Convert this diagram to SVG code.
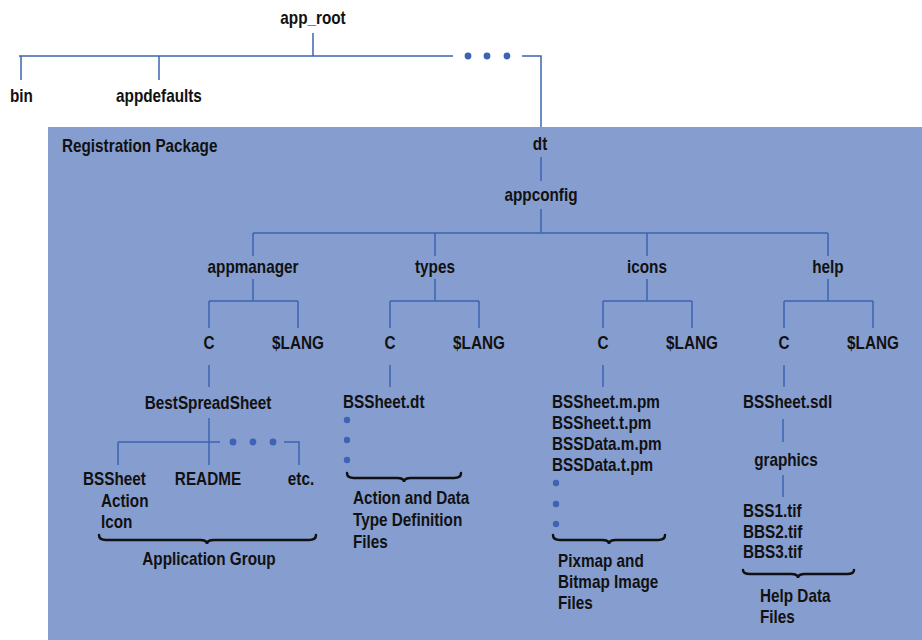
<svg xmlns="http://www.w3.org/2000/svg" width="922" height="640" viewBox="0 0 922 640">
<defs>
<style>
text{font-family:"Liberation Sans",Arial,sans-serif;font-weight:bold;font-size:18px;fill:#111;transform-box:fill-box;transform-origin:0 50%;transform:scaleX(.85)}
.m{text-anchor:middle;transform-origin:50% 50%}
.ln{stroke:#3d64b4;stroke-width:1.5;fill:none}
.dot{fill:#3d64b4}
.br{stroke:#111;stroke-width:2.5;fill:none;stroke-linecap:round}
</style>
</defs>
<rect x="48" y="127" width="874" height="513" fill="#869dcf"/>
<g id="connectors">
<path class="ln" d="M313,33V56M19,56H453M522,56H541V127M21,56V80M159,56V80"/>
<path class="ln" d="M541,157V181M541,209V233M253,233H828M253,233V256M435,233V256M647,233V256M828,233V256"/>
<path class="ln" d="M253,279V301M209,301H298M209,301V328M298,301V328"/>
<path class="ln" d="M435,279V301M390,301H479M390,301V328M479,301V328"/>
<path class="ln" d="M647,279V301M603,301H692M603,301V328M692,301V328"/>
<path class="ln" d="M828,279V301M784,301H873M784,301V328M873,301V328"/>
<path class="ln" d="M209,365V387M390,365V387M603,365V387M784,365V387"/>
<path class="ln" d="M209,418V465M118,442H220M118,442V465M284,442H299V465"/>
<path class="ln" d="M783,419V442M783,475V497"/>
<circle class="dot" cx="468" cy="56" r="3.4"/><circle class="dot" cx="487" cy="56" r="3.4"/><circle class="dot" cx="507" cy="56" r="3.4"/>
<circle class="dot" cx="233" cy="442" r="3.4"/><circle class="dot" cx="253" cy="442" r="3.4"/><circle class="dot" cx="273" cy="442" r="3.4"/>
<circle class="dot" cx="347" cy="420" r="3.2"/><circle class="dot" cx="347" cy="440" r="3.2"/><circle class="dot" cx="347" cy="460" r="3.2"/>
<circle class="dot" cx="556" cy="483" r="3.2"/><circle class="dot" cx="556" cy="504" r="3.2"/><circle class="dot" cx="556" cy="524" r="3.2"/>
<path class="br" d="M99,535Q99,540 106,540L200,540Q207,540 207,544Q207,540 214,540L309,540Q316,540 316,535"/>
<path class="br" d="M347,473Q347,478 354,478L397,478Q404,478 404,482Q404,478 411,478L454,478Q461,478 461,473"/>
<path class="br" d="M553,535Q553,540 560,540L602,540Q609,540 609,544Q609,540 616,540L658,540Q665,540 665,535"/>
<path class="br" d="M743,570Q743,574 750,574L791,574Q798,574 798,578Q798,574 805,574L847,574Q854,574 854,570"/>
</g>
<g id="app_root"><text class="m" x="313" y="24">app_root</text></g>
<g id="bin"><text x="10" y="102">bin</text></g>
<g id="appdefaults"><text class="m" x="159" y="102">appdefaults</text></g>
<g id="registration"><text x="62" y="152">Registration Package</text></g>
<g id="dt"><text class="m" x="540" y="150">dt</text></g>
<g id="appconfig"><text class="m" x="541" y="201">appconfig</text></g>
<g id="appmanager"><text class="m" x="253" y="273">appmanager</text></g>
<g id="types"><text class="m" x="435" y="273">types</text></g>
<g id="icons"><text class="m" x="647" y="273">icons</text></g>
<g id="help"><text class="m" x="828" y="273">help</text></g>
<g id="am_c"><text class="m" x="209" y="349">C</text></g>
<g id="am_lang"><text class="m" x="298" y="349">$LANG</text></g>
<g id="ty_c"><text class="m" x="390" y="349">C</text></g>
<g id="ty_lang"><text class="m" x="479" y="349">$LANG</text></g>
<g id="ic_c"><text class="m" x="603" y="349">C</text></g>
<g id="ic_lang"><text class="m" x="692" y="349">$LANG</text></g>
<g id="he_c"><text class="m" x="784" y="349">C</text></g>
<g id="he_lang"><text class="m" x="873" y="349">$LANG</text></g>
<g id="bestspreadsheet"><text class="m" x="208" y="409">BestSpreadSheet</text></g>
<g id="bssheet_icon"><text x="83" y="485">BSSheet</text><text x="101" y="507">Action</text><text x="101" y="528">Icon</text></g>
<g id="readme"><text class="m" x="208" y="485">README</text></g>
<g id="etc"><text class="m" x="301" y="485">etc.</text></g>
<g id="appgroup"><text class="m" x="209" y="565">Application Group</text></g>
<g id="bssheet_dt"><text x="343" y="408">BSSheet.dt</text></g>
<g id="actiondata"><text x="353" y="504">Action and Data</text><text x="353" y="526">Type Definition</text><text x="353" y="548">Files</text></g>
<g id="pm_files"><text x="552" y="408">BSSheet.m.pm</text><text x="552" y="429">BSSheet.t.pm</text><text x="552" y="450">BSSData.m.pm</text><text x="552" y="471">BSSData.t.pm</text></g>
<g id="pixmap"><text x="558" y="567">Pixmap and</text><text x="558" y="588">Bitmap Image</text><text x="558" y="609">Files</text></g>
<g id="bssheet_sdl"><text x="743" y="408">BSSheet.sdl</text></g>
<g id="graphics"><text class="m" x="786" y="466">graphics</text></g>
<g id="tifs"><text x="743" y="517">BSS1.tif</text><text x="743" y="538">BBS2.tif</text><text x="743" y="558">BBS3.tif</text></g>
<g id="helpdata"><text x="760" y="602">Help Data</text><text x="760" y="623">Files</text></g>
</svg>
